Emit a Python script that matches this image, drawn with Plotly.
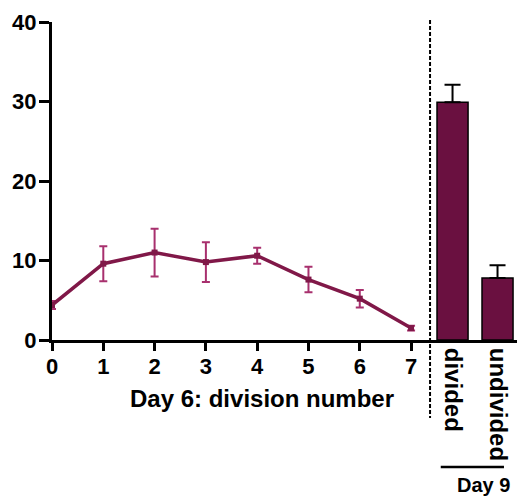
import plotly.graph_objects as go

# Day 6: percentage per division number
division = [0, 1, 2, 3, 4, 5, 6, 7]
pct_day6 = [4.4, 9.6, 11.0, 9.8, 10.6, 7.6, 5.2, 1.5]
err_day6 = [0.5, 2.2, 3.0, 2.5, 1.0, 1.6, 1.1, 0.3]

# Day 9: divided vs undivided
groups = ["divided", "undivided"]
pct_day9 = [29.9, 7.8]
err_day9 = [2.2, 1.6]

line_col = "#801848"
err_col = "#a8306e"
bar_col = "#6a1040"
font_fam = "Liberation Sans, Arial, sans-serif"

fig = go.Figure()

fig.add_trace(go.Scatter(
    x=division, y=pct_day6, mode="lines+markers",
    line=dict(color=line_col, width=3.5),
    marker=dict(symbol="square", size=6, color=line_col),
    error_y=dict(type="data", array=err_day6, color=err_col, thickness=2, width=4),
    cliponaxis=False, showlegend=False, xaxis="x", yaxis="y",
))

fig.add_trace(go.Bar(
    x=groups, y=pct_day9,
    marker=dict(color=bar_col, line=dict(color="black", width=1.5)),
    error_y=dict(type="data", array=err_day9, symmetric=False, arrayminus=[0, 0],
                 color="black", thickness=2, width=8),
    showlegend=False, xaxis="x2", yaxis="y",
))

split = 0.813

fig.update_layout(
    width=517, height=498,
    margin=dict(l=52, r=0, t=22, b=158),
    paper_bgcolor="white", plot_bgcolor="white",
    font=dict(family=font_fam, color="black"),
    bargap=0.31,
    xaxis=dict(
        domain=[0, split], range=[0, 7.37],
        tickmode="array", tickvals=division, ticktext=[str(d) for d in division],
        ticks="outside", ticklen=8, tickwidth=3, tickcolor="black",
        ticklabelstandoff=-3,
        showline=True, linecolor="black", linewidth=3,
        showgrid=False, zeroline=False,
        tickfont=dict(size=22, weight="bold"),
    ),
    xaxis2=dict(
        domain=[split, 1], range=[-0.5, 1.433], anchor="y",
        tickangle=90, ticks="", showline=True, linecolor="black", linewidth=3,
        showgrid=False, zeroline=False,
        tickfont=dict(size=24, weight="bold"),
    ),
    yaxis=dict(
        range=[0, 40], tickvals=[0, 10, 20, 30, 40],
        ticks="outside", ticklen=10, tickwidth=3, tickcolor="black",
        ticklabelstandoff=-2,
        showline=True, linecolor="black", linewidth=3,
        showgrid=False, zeroline=False,
        tickfont=dict(size=22, weight="bold"),
    ),
    shapes=[
        dict(type="line", xref="paper", yref="paper", x0=split, x1=split,
             y0=1.006, y1=-0.245, line=dict(color="black", width=2, dash="4px,2px")),
        dict(type="line", xref="paper", yref="paper", x0=0.836, x1=0.972,
             y0=-0.399, y1=-0.399, line=dict(color="black", width=2.5)),
    ],
    annotations=[
        dict(text="Day 6: division number", xref="paper", yref="paper",
             x=0.4516, y=-0.1855, showarrow=False,
             font=dict(size=24, weight="bold"), xanchor="center", yanchor="middle"),
        dict(text="Day 9", xref="paper", yref="paper", x=0.927, y=-0.455,
             showarrow=False, font=dict(size=20, weight="bold"),
             xanchor="center", yanchor="middle"),
    ],
)

fig.write_html("out.html")
